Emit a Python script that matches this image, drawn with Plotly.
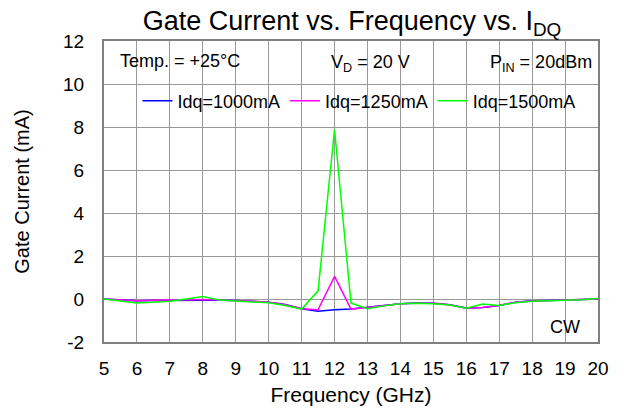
import plotly.graph_objects as go

freq = [5, 5.5, 6, 6.5, 7, 7.5, 8, 8.5, 9, 9.5, 10, 10.5, 11, 11.5, 12, 12.5,
        13, 13.5, 14, 14.5, 15, 15.5, 16, 16.5, 17, 17.5, 18, 18.5, 19, 19.5, 20]

idq_1000 = [0, -0.05, -0.08, -0.07, -0.06, -0.05, -0.05, -0.06, -0.07, -0.1, -0.15,
            -0.25, -0.45, -0.57, -0.5, -0.47, -0.38, -0.3, -0.22, -0.19, -0.2,
            -0.27, -0.42, -0.4, -0.3, -0.15, -0.08, -0.07, -0.05, -0.03, 0]
idq_1250 = [0, -0.05, -0.08, -0.06, -0.05, -0.04, -0.02, -0.05, -0.07, -0.1, -0.15,
            -0.27, -0.45, -0.5, 1.05, -0.47, -0.4, -0.3, -0.22, -0.2, -0.2,
            -0.27, -0.43, -0.4, -0.3, -0.15, -0.09, -0.07, -0.05, -0.03, 0]
idq_1500 = [0, -0.1, -0.19, -0.15, -0.1, 0, 0.12, -0.05, -0.1, -0.13, -0.18,
            -0.3, -0.47, 0.38, 7.88, -0.19, -0.45, -0.32, -0.22, -0.2, -0.22,
            -0.28, -0.43, -0.23, -0.3, -0.17, -0.1, -0.08, -0.06, -0.03, 0.02]

series_names = ["Idq=1000mA", "Idq=1250mA", "Idq=1500mA"]
series_values = [idq_1000, idq_1250, idq_1500]
series_colors = ["#0000FF", "#FF00FF", "#00FF00"]

x_ticks = list(range(5, 21))
y_ticks = list(range(-2, 13, 2))

FONT = "Liberation Sans, Arial, sans-serif"

fig = go.Figure()
for name, vals, col in zip(series_names, series_values, series_colors):
    fig.add_trace(go.Scatter(x=freq, y=vals, mode="lines", name=name,
                             line=dict(color=col, width=1.5)))

W, H = 634, 415
L, R, T, B = 104, 36, 41, 73

def px_to_paper_x(px):
    return (px - L) / (W - L - R)

def px_to_paper_y(py):
    return 1 - (py - T) / (H - T - B)

# white background boxes (drawn between gridlines and traces)
boxes = [(104, 45, 254, 77), (310, 46, 436, 81), (477, 45, 597, 79),
         (104, 89, 598, 117), (522, 310, 597, 338)]
shapes = []
for x0, y0, x1, y1 in boxes:
    shapes.append(dict(type="rect", xref="paper", yref="paper",
                       x0=px_to_paper_x(x0), x1=px_to_paper_x(x1),
                       y0=px_to_paper_y(y1), y1=px_to_paper_y(y0),
                       fillcolor="white", line=dict(width=0), layer="between"))

annos = [
    ("Temp. = +25°C", 180, 61),
    ("V<sub>D</sub> = 20 V", 370, 64),
    ("P<sub>IN</sub> = 20dBm", 541, 63),
    ("CW", 565, 327),
]
annotations = []
for txt, ax, ay in annos:
    annotations.append(dict(text=txt, xref="paper", yref="paper",
                            x=px_to_paper_x(ax), y=px_to_paper_y(ay),
                            xanchor="center", yanchor="middle", showarrow=False,
                            font=dict(family=FONT, size=18, color="black")))

fig.update_layout(
    width=W, height=H,
    margin=dict(l=L, r=R, t=T, b=B),
    paper_bgcolor="white", plot_bgcolor="white",
    font=dict(family=FONT, color="black"),
    title=dict(text="Gate Current vs. Frequency vs. I<sub>DQ</sub>",
               x=px_to_paper_x(352), xref="paper", xanchor="center",
               y=1 - 21 / H, yanchor="middle",
               font=dict(family=FONT, size=27, color="black")),
    showlegend=True,
    legend=dict(orientation="h", x=px_to_paper_x(359), xanchor="center",
                y=px_to_paper_y(101), yanchor="middle",
                bgcolor="rgba(0,0,0,0)", font=dict(family=FONT, size=18),
                itemwidth=30, tracegroupgap=0),
    shapes=shapes,
    annotations=annotations,
)

fig.update_xaxes(range=[5, 20], tickvals=x_ticks, ticktext=[str(v) for v in x_ticks],
                 showgrid=True, gridcolor="#999999", gridwidth=1,
                 showline=True, mirror=True, linecolor="#808080", linewidth=2,
                 zeroline=False, ticks="", ticklabelstandoff=8,
                 tickfont=dict(family=FONT, size=19),
                 title=dict(text="Frequency (GHz)", font=dict(family=FONT, size=21), standoff=10))
fig.update_yaxes(range=[-2, 12], tickvals=y_ticks, ticktext=[str(v) for v in y_ticks],
                 showgrid=True, gridcolor="#999999", gridwidth=1,
                 showline=True, mirror=True, linecolor="#808080", linewidth=2,
                 zeroline=False, ticks="", ticklabelstandoff=14,
                 tickfont=dict(family=FONT, size=19),
                 title=dict(text="Gate Current (mA)", font=dict(family=FONT, size=20), standoff=28))

fig.write_html("out.html")
